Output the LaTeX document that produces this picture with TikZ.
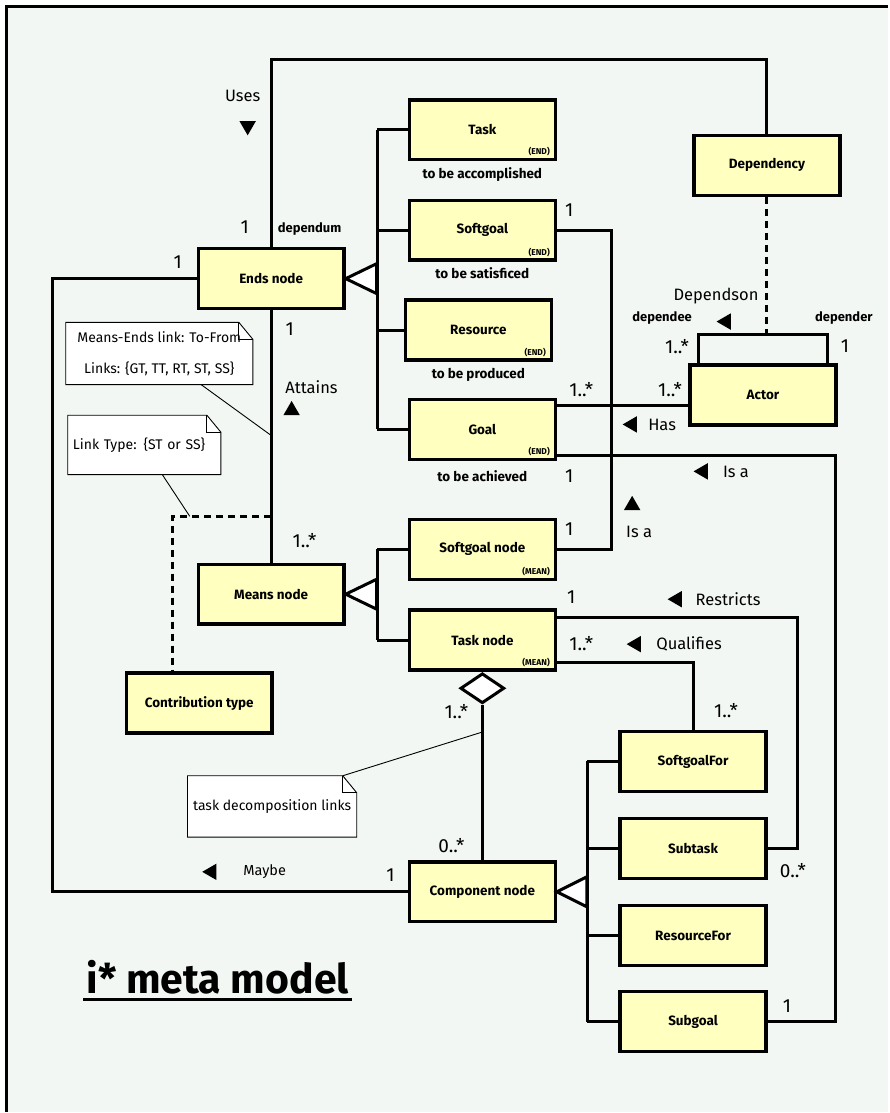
\documentclass[tikz,border=0pt]{standalone}
\usepackage{fontspec}
\setmainfont{Fira Sans}
\usepackage{tikz}
\usetikzlibrary{shapes,arrows,positioning,calc}
\definecolor{boxyellow}{HTML}{FFFFC0}
\definecolor{paper}{HTML}{F3F7F3}

\begin{document}
\begin{tikzpicture}[
    x=1pt, y=-1pt,
    cls/.style={rectangle, draw, line width=3.4pt, fill=boxyellow, minimum width=146pt, minimum height=60pt, inner sep=2pt, font=\bfseries\fontsize{13.5}{15}\selectfont},
    tag/.style={anchor=south east, inner sep=1pt, font=\bfseries\fontsize{8.5}{9}\selectfont},
    role/.style={anchor=north, inner sep=6pt, font=\bfseries\fontsize{13.5}{15}\selectfont},
    link/.style={line width=3pt},
    dashlink/.style={line width=3pt, dash pattern=on 7pt off 5pt},
    gen/.style={line width=3pt, fill=white},
    mult/.style={inner sep=0pt, font=\fontsize{19}{21}\selectfont},
    verb/.style={inner sep=0pt, font=\fontsize{16.5}{18}\selectfont},
    rolename/.style={inner sep=0pt, font=\bfseries\fontsize{13}{15}\selectfont},
    dir/.style={regular polygon, regular polygon sides=3, fill, inner sep=0pt, minimum size=19pt},
    note/.style={fill=white, inner sep=4pt, font=\fontsize{14}{16}\selectfont},
    noteline/.style={line width=0.9pt}
]

\fill[white] (0,0) rectangle (889,1113);
\fill[paper] (7,7) rectangle (889,1113);
\draw[line width=3pt] (7,1113) -- (7,7) -- (889,7);
\useasboundingbox (0,0) rectangle (889,1113);

\node[cls] (ends) at (271.5,279) {Ends node};
\node[cls] (task) at (483,130) {Task};
\node[cls] (softgoal) at (483,230.5) {Softgoal};
\node[cls] (resource) at (479,330.5) {Resource};
\node[cls] (goal) at (483,430) {Goal};
\node[cls] (dependency) at (768,165.5) {Dependency};
\node[cls] (actor) at (764,395.5) {Actor};
\node[cls] (means) at (271.5,595) {Means node};
\node[cls] (contrib) at (199.5,704) {Contribution type};
\node[cls] (sgnode) at (483,550) {Softgoal node};
\node[cls] (tasknode) at (483,641) {Task node};
\node[cls] (comp) at (483,893) {Component node};
\node[cls] (sgfor) at (694,762.5) {SoftgoalFor};
\node[cls] (subtask) at (694,849.5) {Subtask};
\node[cls] (resfor) at (694,937) {ResourceFor};
\node[cls] (subgoal) at (694,1023) {Subgoal};

\foreach \c in {task,softgoal,resource,goal}
    \node[tag] (\c-end) at ([shift={(-6pt,4pt)}]\c.south east) {(END)};
\foreach \c in {sgnode,tasknode}
    \node[tag] (\c-mean) at ([shift={(-6pt,4pt)}]\c.south east) {(MEAN)};

\node[role] (taskrole) at (task.south) {to be accomplished};
\node[role] (softgoalrole) at (softgoal.south) {to be satisficed};
\node[role] (resourcerole) at (resource.south) {to be produced};
\node[role] (goalrole) at ([yshift=-3pt]goal.south) {to be achieved};

% generalisations
\coordinate (endsbus) at (378,0);
\coordinate (compbus) at (588,0);
\draw[link] (task.west -| endsbus) -- (goal.west -| endsbus);
\foreach \c in {task,softgoal,resource,goal}
    \draw[link] (\c.west -| endsbus) -- (\c.west);
\draw[gen] (ends.east) -- ++(31,-15) -- ++(0,30) -- cycle;
\draw[link] (sgnode.west -| endsbus) -- (tasknode.west -| endsbus);
\foreach \c in {sgnode,tasknode}
    \draw[link] (\c.west -| endsbus) -- (\c.west);
\draw[gen] (means.east) -- ++(31,-15) -- ++(0,30) -- cycle;
\draw[link] (sgfor.west -| compbus) -- (subgoal.west -| compbus);
\foreach \c in {sgfor,subtask,resfor,subgoal}
    \draw[link] (\c.west -| compbus) -- (\c.west);
\draw[gen] (comp.east) -- ++(30,-15) -- ++(0,30) -- cycle;

% associations
\coordinate (usesy) at (0,60);
\draw[link] (ends.north) |- (dependency.north |- usesy) -- (dependency.north);
\coordinate (leftrail) at (53,0);
\draw[link] (ends.west) -| (leftrail |- comp.west) -- (comp.west);
\draw[link] (ends.south) -- (means.north);
\coordinate (ctjoin) at (271.5,517);
\coordinate (ctrail) at (173,0);
\draw[dashlink] (ctjoin) -| (ctrail |- contrib.north);

\coordinate (sgisa) at (612,0);
\draw[link] (softgoal.east) -| (sgisa |- sgnode.east) -- (sgnode.east);
\coordinate (hasy) at (0,406);
\draw[link] (goal.east |- hasy) -- (actor.west |- hasy);
\coordinate (goalisay) at (0,456);
\coordinate (goalisa) at (837,0);
\draw[link] (goal.east |- goalisay) -| (goalisa |- subgoal.east) -- (subgoal.east);

\draw[link] ([xshift=-65pt]actor.north) -- ++(0,-29) coordinate (looptl) -| ([xshift=65pt]actor.north);
\draw[dashlink] (dependency.south) -- (dependency.south |- looptl);

\coordinate (restry) at (0,618);
\coordinate (restr) at (799,0);
\draw[link] (tasknode.east |- restry) -| (restr |- subtask.east) -- (subtask.east);
\coordinate (qualy) at (0,663);
\draw[link] (tasknode.east |- qualy) -| (sgfor.north);

\node[diamond, draw, line width=3pt, fill=white, minimum width=44pt, minimum height=30pt, inner sep=0pt, anchor=north] (agg) at (tasknode.south) {};
\draw[link] (agg.south) -- (comp.north);

% notes
\node[note, minimum width=187pt, minimum height=62pt, align=center] (melink) at (159.5,354) {Means-Ends link: To-From\\[15pt]Links: \{GT, TT, RT, ST, SS\}};
\node[note, minimum width=153pt, minimum height=59pt, align=left, text width=143pt] (ltype) at (144.5,445.5) {Link Type: \{ST or SS\}};
\node[note, minimum width=169pt, minimum height=61pt] (tdlink) at (272.5,807.5) {task decomposition links};
\foreach \n in {melink,ltype,tdlink} {
    \fill[paper] ([xshift=-14pt]\n.north east) -- (\n.north east) -- ([yshift=-17pt]\n.north east) -- cycle;
    \draw[noteline] (\n.north west) -- ([xshift=-14pt]\n.north east) -- ([yshift=-17pt]\n.north east) -- (\n.south east) -- (\n.south west) -- cycle;
    \draw[noteline] ([xshift=-14pt]\n.north east) |- ([yshift=-17pt]\n.north east);
}
\coordinate (mejoin) at (271.5,436);
\draw[noteline] ([xshift=42pt]melink.south) -- (mejoin);
\coordinate (ltjoin) at (190,517);
\draw[noteline] ([xshift=18pt]ltype.south) -- (ltjoin);
\coordinate (tdjoin) at (483,733);
\draw[noteline] ([xshift=-14pt]tdlink.north east) -- (tdjoin);

% labels
\node[verb] (usesl) at (243,96) {Uses};
\node[dir, rotate=180] (usesd) at (248,126) {};
\node[mult] (m1) at (245,227) {1};
\node[rolename] (dependuml) at (310,229) {dependum};
\node[mult] (m2) at (178,262) {1};
\node[mult] (m3) at (290,330) {1};
\node[verb] (attainsl) at (312,388) {Attains};
\node[dir] (attainsd) at (292,411) {};
\node[mult] (m4) at (305,541) {1..*};
\node[mult] (m5) at (570,210) {1};
\node[mult] (m6) at (570,530) {1};
\node[dir] (isad1) at (633,506) {};
\node[verb] (isal1) at (640,533) {Is a};
\node[mult] (m7) at (582,390) {1..*};
\node[mult] (m8) at (671,390) {1..*};
\node[dir, rotate=90] (hasd) at (633,425) {};
\node[verb] (hasl) at (663,425) {Has};
\node[mult] (m9) at (570,477) {1};
\node[dir, rotate=90] (isad2) at (704,472) {};
\node[verb] (isal2) at (737,473) {Is a};
\node[verb] (dependsonl) at (717,296) {Dependson};
\node[rolename] (dependeel) at (663,318) {dependee};
\node[dir, rotate=90] (dependsond) at (727,322) {};
\node[rolename] (dependerl) at (845,318) {depender};
\node[mult] (m10) at (678,347) {1..*};
\node[mult] (m11) at (846,347) {1};
\node[mult] (m12) at (572,598) {1};
\node[dir, rotate=90] (restrd) at (678,600) {};
\node[verb] (restrl) at (729,600) {Restricts};
\node[mult] (m13) at (582,644) {1..*};
\node[dir, rotate=90] (quald) at (637,645) {};
\node[verb] (quall) at (690,645) {Qualifies};
\node[mult] (m14) at (727,712) {1..*};
\node[mult] (m15) at (457,713) {1..*};
\node[mult] (m16) at (452,847) {0..*};
\node[mult] (m17) at (794,872) {0..*};
\node[mult] (m18) at (788,1007) {1};
\node[dir, rotate=90] (maybed) at (212,873) {};
\node[inner sep=0pt, font=\fontsize{14.5}{16}\selectfont] (maybel) at (265,873) {Maybe};
\node[mult] (m19) at (391,876) {1};

\node[anchor=base, font=\bfseries\fontsize{41}{44}\selectfont] (title) at (218,995) {i* meta model};
\draw[line width=3pt] ([yshift=-6pt]title.base west) -- ([yshift=-6pt]title.base east);

\end{tikzpicture}
\end{document}
